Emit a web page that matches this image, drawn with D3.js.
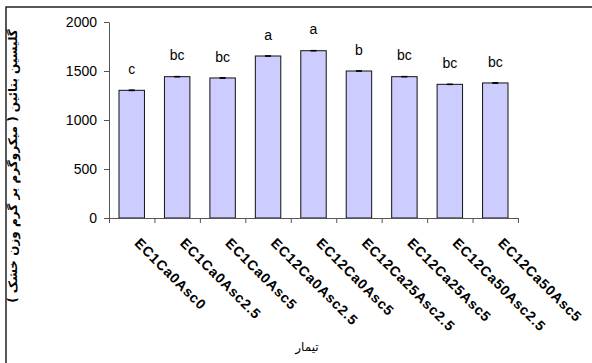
<!DOCTYPE html>
<html>
<head>
<meta charset="utf-8">
<script src="https://cdn.jsdelivr.net/npm/d3@7"></script>
<style>
  body { margin: 0; background: #fff; }
  svg { display: block; }
</style>
</head>
<body>
<svg id="chart"></svg>
<script>
const treatments = [
  "EC1Ca0Asc0",
  "EC1Ca0Asc2.5",
  "EC1Ca0Asc5",
  "EC12Ca0Asc2.5",
  "EC12Ca0Asc5",
  "EC12Ca25Asc2.5",
  "EC12Ca25Asc5",
  "EC12Ca50Asc2.5",
  "EC12Ca50Asc5",
];
const values = [1303, 1442, 1429, 1653, 1707, 1500, 1442, 1364, 1378];
const errors = [4, 3, 4, 3, 3, 3, 3, 3, 4];
const letters = ["c", "bc", "bc", "a", "a", "b", "bc", "bc", "bc"];
const yTicks = [0, 500, 1000, 1500, 2000];

const W = 592, H = 363;
const plotLeft = 109, plotRight = 518, plotTop = 22, plotBottom = 218;

const svg = d3.select("#chart").attr("width", W).attr("height", H);

// outer frame
svg.append("rect")
  .attr("x", 6).attr("y", 7)
  .attr("width", W + 10).attr("height", H + 10)
  .attr("fill", "none")
  .attr("stroke", "#222")
  .attr("stroke-width", 1.5);

const x = d3.scaleBand()
  .domain(treatments)
  .range([plotLeft, plotRight])
  .paddingInner(0.44)
  .paddingOuter(0.22);

const y = d3.scaleLinear().domain([0, 2000]).range([plotBottom, plotTop]);

// y axis
const yAxis = svg.append("g")
  .attr("transform", `translate(${plotLeft},0)`)
  .call(d3.axisLeft(y).tickValues(yTicks).tickSize(5).tickSizeOuter(0).tickFormat(d3.format("d")));
yAxis.select(".domain").attr("stroke", "#555");
yAxis.selectAll(".tick line").attr("stroke", "#555");
yAxis.selectAll(".tick text")
  .attr("x", -12)
  .attr("font-family", "Arial, 'Liberation Sans', sans-serif")
  .attr("font-size", 14)
  .attr("fill", "#000");

// bars
svg.append("g")
  .selectAll("rect")
  .data(values)
  .join("rect")
  .attr("x", (d, i) => x(treatments[i]))
  .attr("y", (d) => y(d))
  .attr("width", x.bandwidth())
  .attr("height", (d) => y(0) - y(d))
  .attr("fill", "#ccccff")
  .attr("stroke", "#111")
  .attr("stroke-width", 1);

// error bars
const eb = svg.append("g").attr("stroke", "#000").attr("stroke-width", 1);
values.forEach((v, i) => {
  const cx = x(treatments[i]) + x.bandwidth() / 2;
  eb.append("line")
    .attr("x1", cx).attr("x2", cx)
    .attr("y1", y(v - errors[i])).attr("y2", y(v + errors[i]));
  [v - errors[i], v + errors[i]].forEach((e) => {
    eb.append("line")
      .attr("x1", cx - 3).attr("x2", cx + 3)
      .attr("y1", y(e)).attr("y2", y(e));
  });
});

// x axis (ticks between categories)
const xl = d3.scaleLinear().domain([0, treatments.length]).range([plotLeft, plotRight]);
const xAxis = svg.append("g")
  .attr("transform", `translate(0,${plotBottom})`)
  .call(d3.axisBottom(xl).ticks(treatments.length).tickSize(5).tickSizeOuter(0).tickFormat(""));
xAxis.select(".domain").attr("stroke", "#555");
xAxis.selectAll(".tick line").attr("stroke", "#555");

// category labels
svg.append("g")
  .selectAll("text")
  .data(treatments)
  .join("text")
  .attr("transform", (d) => `translate(${x(d) + x.bandwidth() / 2 + 2},244) rotate(45)`)
  .attr("font-family", "Arial, 'Liberation Sans', sans-serif")
  .attr("font-weight", "bold")
  .attr("font-size", 14)
  .attr("letter-spacing", 0.8)
  .attr("text-anchor", "start")
  .text((d) => d);

// significance letters
svg.append("g")
  .selectAll("text")
  .data(letters)
  .join("text")
  .attr("x", (d, i) => x(treatments[i]) + x.bandwidth() / 2)
  .attr("y", (d, i) => y(values[i] + errors[i]) - 16)
  .attr("text-anchor", "middle")
  .attr("font-family", "Arial, 'Liberation Sans', sans-serif")
  .attr("font-size", 14)
  .text((d) => d);

// axis titles
svg.append("text")
  .attr("transform", "translate(17,166) rotate(-90)")
  .attr("direction", "rtl")
  .attr("text-anchor", "middle")
  .attr("font-family", "'DejaVu Sans', sans-serif")
  .attr("font-weight", "bold")
  .attr("font-size", 12)
  .text("گلیسین بتائین ( میکروگرم بر گرم وزن خشک )");

svg.append("text")
  .attr("x", 307)
  .attr("y", 351)
  .attr("text-anchor", "middle")
  .attr("font-family", "'DejaVu Sans', sans-serif")
  .attr("font-size", 12)
  .text("تیمار");
</script>
</body>
</html>
